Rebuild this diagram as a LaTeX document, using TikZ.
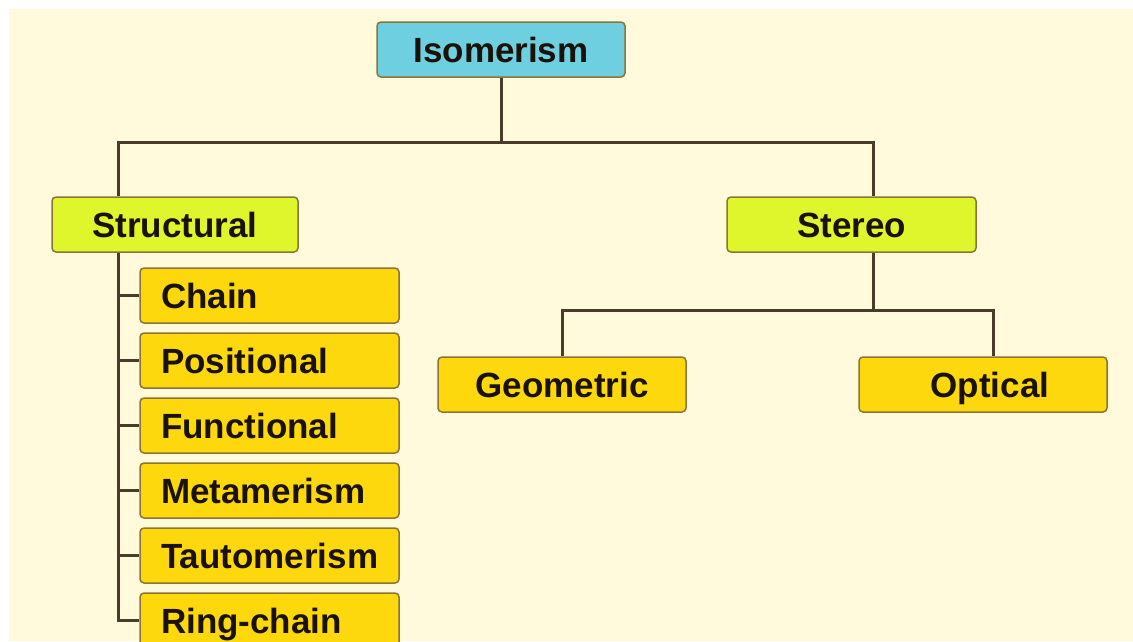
\documentclass[tikz,border=0pt]{standalone}
\usepackage{fontspec}
\setmainfont{Liberation Sans}
\definecolor{bgcream}{HTML}{FFFADC}
\definecolor{cyanbox}{HTML}{6DCFE0}
\definecolor{limebox}{HTML}{DFF52C}
\definecolor{goldbox}{HTML}{FDD80C}
\definecolor{boxedge}{HTML}{8B7536}
\definecolor{linecol}{HTML}{4B3B2A}
\definecolor{txtcol}{HTML}{1A1208}
\tikzset{
  box/.style={draw=boxedge, line width=1.5pt, rounded corners=4pt,
    minimum height=55pt, inner sep=0pt, text=txtcol,
    font=\fontsize{35}{40}\selectfont\bfseries, text height=25pt, text depth=0pt},
  topbox/.style={box, fill=cyanbox, minimum width=248pt},
  midbox/.style={box, fill=limebox},
  leafbox/.style={box, fill=goldbox, minimum width=248pt},
  listbox/.style={box, fill=goldbox, minimum width=259pt, text width=217pt,
    inner xsep=21pt, align=left},
  conn/.style={draw=linecol, line width=3pt}
}
\begin{document}
\begin{tikzpicture}[x=1pt, y=-1pt]
\useasboundingbox (0,0) rectangle (1133,641);
\clip (0,0) rectangle (1133,641);
\fill[white] (0,0) rectangle (1133,641);
\fill[bgcream] (9,9) rectangle (1133,641);

\node[topbox] (iso) at (501,49.5) {Isomerism};
\node[midbox, minimum width=246pt] (str) at (175,224.5) {Structural};
\node[midbox, minimum width=249pt] (ste) at (851.5,224.5) {Stereo};
\node[leafbox] (geo) at (562,384.5) {Geometric};
\node[leafbox] (opt) at (983,384.5) {\hspace*{14pt}Optical};

\node[listbox] (chain) at (269.5,295.5) {Chain};
\node[listbox] (pos) at (269.5,360.5) {Positional};
\node[listbox] (fun) at (269.5,425.5) {Functional};
\node[listbox] (meta) at (269.5,490.5) {Metamerism};
\node[listbox] (taut) at (269.5,555.5) {Tautomerism};
\node[listbox] (ring) at (269.5,620.5) {Ring-chain};

\coordinate (j1) at (502,142);
\coordinate (j2) at (873,310);

% top level
\draw[conn] (iso.south) -- (iso.south |- j1);
\draw[conn] ([xshift=-57pt]str.north) |- ([xshift=21.5pt]ste.north |- j1) -- ([xshift=21.5pt]ste.north);

% structural list
\draw[conn] ([xshift=-57pt]str.south) |- (ring.west);
\foreach \n in {chain,pos,fun,meta,taut}{
  \draw[conn] (\n.west) -- ([xshift=-57pt]str.south |- \n.west);
}

% stereo
\draw[conn] ([xshift=21.5pt]ste.south) -- ([xshift=21.5pt]ste.south |- j2);
\draw[conn] (geo.north) |- ([xshift=10pt]opt.north |- j2) -- ([xshift=10pt]opt.north);
\end{tikzpicture}
\end{document}
